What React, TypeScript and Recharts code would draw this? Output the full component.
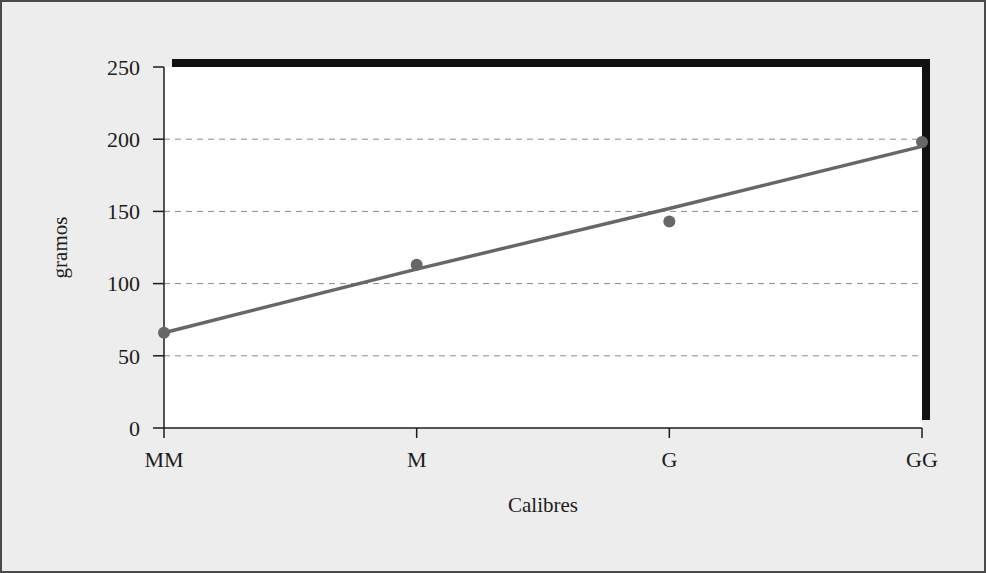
import { ComposedChart, Line, XAxis, YAxis, ReferenceArea, ReferenceLine } from "recharts";

const calibres = ["MM", "M", "G", "GG"];
const pesos = [66, 113, 143, 198];
const tendencia = [66, 110, 152, 195];
const yTicks = [0, 50, 100, 150, 200, 250];

const data = calibres.map((name, i) => ({ name, peso: pesos[i], tendencia: tendencia[i] }));

const FONT = "'Liberation Serif', 'DejaVu Serif', serif";
const INK = "#1c1c1c";
const GREY = "#676767";

// black block peeking out at the top and right of the white plot
const Shadow = (props: any) => {
  const { x, y, width, height } = props;
  return <rect x={x + 8} y={y - 8} width={width} height={height} fill="#111" />;
};

export default function App() {
  return (
    <div
      style={{
        position: "absolute",
        left: 0,
        top: 0,
        width: 986,
        height: 573,
        background: "#ededed",
        boxShadow: "inset 0 0 0 2px #4a4a4a",
        fontFamily: FONT,
      }}
    >
      <ComposedChart width={986} height={573} data={data} margin={{ top: 67, right: 64, left: 0, bottom: 0 }}>
        <ReferenceArea x1="MM" x2="GG" y1={0} y2={250} shape={<Shadow />} ifOverflow="visible" />
        <ReferenceArea x1="MM" x2="GG" y1={0} y2={250} fill="#fff" fillOpacity={1} stroke="none" ifOverflow="visible" />
        {yTicks
          .filter((v) => v > 0 && v < 250)
          .map((v) => (
            <ReferenceLine key={v} y={v} stroke="#8a8a8a" strokeWidth={1} strokeDasharray="6 5" />
          ))}
        <XAxis
          dataKey="name"
          scale="point"
          padding={{ left: 0, right: 0 }}
          height={145}
          tickSize={10}
          tickMargin={13}
          axisLine={{ stroke: INK, strokeWidth: 1.5 }}
          tickLine={{ stroke: INK, strokeWidth: 1.5 }}
          tick={{ fill: INK, fontSize: 22, fontFamily: FONT }}
          label={{ value: "Calibres", position: "insideTop", offset: 69, fill: INK, fontSize: 21, fontFamily: FONT }}
        />
        <YAxis
          domain={[0, 250]}
          ticks={yTicks}
          width={164}
          tickSize={11}
          tickMargin={13}
          axisLine={{ stroke: INK, strokeWidth: 1.5 }}
          tickLine={{ stroke: INK, strokeWidth: 1.5 }}
          tick={{ fill: INK, fontSize: 22, fontFamily: FONT }}
          label={{
            value: "gramos",
            angle: -90,
            position: "insideLeft",
            offset: 60,
            fill: INK,
            fontSize: 21,
            fontFamily: FONT,
            style: { textAnchor: "middle" },
          }}
        />
        <Line dataKey="tendencia" stroke={GREY} strokeWidth={3.5} dot={false} isAnimationActive={false} />
        <Line
          dataKey="peso"
          stroke="none"
          strokeWidth={0}
          dot={{ r: 6, fill: GREY, stroke: "none" }}
          activeDot={false}
          isAnimationActive={false}
        />
      </ComposedChart>
    </div>
  );
}
